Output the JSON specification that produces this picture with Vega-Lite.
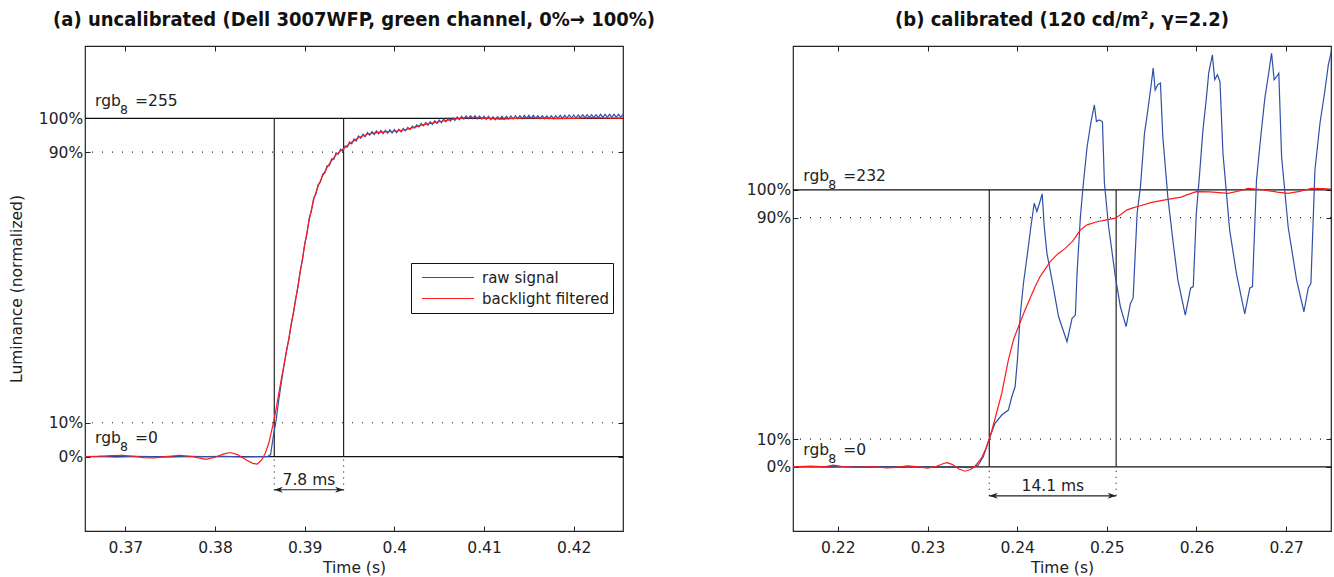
{
 "$schema": "https://vega.github.io/schema/vega-lite/v6.json",
 "padding": {"left": 9, "top": 8, "right": 2, "bottom": 0},
 "background": "white",
 "config": {
  "view": {"stroke": "#222", "strokeWidth": 1.2},
  "axis": {"grid": false, "domain": false, "tickSize": -5, "tickColor": "#222", "tickWidth": 1, "labelFont": "DejaVu Sans", "labelFontSize": 15.5, "labelColor": "#222", "titleFont": "DejaVu Sans", "titleFontSize": 15.5, "titleFontWeight": "normal", "titleColor": "#222"},
  "axisX": {"labelPadding": 14.5},
  "axisY": {"labelPadding": 7.3},
  "legend": {"orient": "none", "legendX": 326, "legendY": 217, "strokeColor": "#111", "fillColor": "white", "padding": 4, "symbolOffset": 6, "symbolType": "stroke", "symbolSize": 2704, "symbolStrokeWidth": 1.2, "labelFont": "DejaVu Sans", "labelFontSize": 15, "labelColor": "#222", "labelOffset": 7, "clipHeight": 21, "rowPadding": 0, "cornerRadius": 0},
  "title": {"font": "Liberation Sans Narrow, DejaVu Sans Condensed, Roboto", "fontSize": 20, "fontWeight": "bold", "color": "#111", "frame": "group", "anchor": "middle", "offset": 16}
 },
 "datasets": {
  "lann": [
   {"kind": "hsolid", "v": 0}, {"kind": "hsolid", "v": 1},
   {"kind": "hdot", "v": 0.1}, {"kind": "hdot", "v": 0.9},
   {"kind": "vsolid", "t": 0.38661, "v": 0, "v2": 1}, {"kind": "vsolid", "t": 0.39434, "v": 0, "v2": 1},
   {"kind": "vdot", "t": 0.38661, "v": -0.1, "v2": 0}, {"kind": "vdot", "t": 0.39434, "v": -0.1, "v2": 0},
   {"kind": "arrow", "t": 0.38661, "t2": 0.39434, "v": -0.098},
   {"kind": "head", "t": 0.38661, "v": -0.098, "dir": "left"}, {"kind": "head", "t": 0.39434, "v": -0.098, "dir": "right"},
   {"kind": "dur", "t": 0.390475, "v": -0.069, "label": "7.8 ms"},
   {"kind": "rgb", "t": 0.36662, "v": 1.0364, "rest": "=255"},
   {"kind": "rgb", "t": 0.36662, "v": 0.0395, "rest": "=0"}
  ],
  "rann": [
   {"kind": "hsolid", "v": 0}, {"kind": "hsolid", "v": 1},
   {"kind": "hdot", "v": 0.1}, {"kind": "hdot", "v": 0.9},
   {"kind": "vsolid", "t": 0.23689, "v": 0, "v2": 1}, {"kind": "vsolid", "t": 0.25104, "v": 0, "v2": 1},
   {"kind": "vdot", "t": 0.23689, "v": -0.105, "v2": 0}, {"kind": "vdot", "t": 0.25104, "v": -0.105, "v2": 0},
   {"kind": "arrow", "t": 0.23689, "t2": 0.25104, "v": -0.105},
   {"kind": "head", "t": 0.23689, "v": -0.105, "dir": "left"}, {"kind": "head", "t": 0.25104, "v": -0.105, "dir": "right"},
   {"kind": "dur", "t": 0.24398, "v": -0.0687, "label": "14.1 ms"},
   {"kind": "rgb", "t": 0.21615, "v": 1.0336, "rest": "=232"},
   {"kind": "rgb", "t": 0.21615, "v": 0.042, "rest": "=0"}
  ],
  "lfilt": [
   {"t":0.3655,"v":0},{"t":0.367,"v":0.001},{"t":0.3685,"v":0.003},{"t":0.3697,"v":0.004},{"t":0.371,"v":0.001},{"t":0.372,"v":-0.003},{"t":0.3731,"v":-0.004},{"t":0.3745,"v":0},{"t":0.3761,"v":0.004},{"t":0.3775,"v":0},{"t":0.379,"v":-0.008},{"t":0.38,"v":-0.002},{"t":0.381,"v":0.008},{"t":0.3817,"v":0.012},{"t":0.3825,"v":0.006},{"t":0.3835,"v":-0.01},{"t":0.3842,"v":-0.02},{"t":0.3847,"v":-0.022},{"t":0.3852,"v":-0.01},{"t":0.3856,"v":0.01},{"t":0.386,"v":0.04},{"t":0.3863,"v":0.075},{"t":0.3866,"v":0.11},{"t":0.387,"v":0.17},{"t":0.3875,"v":0.245},{"t":0.388,"v":0.315},{"t":0.3885,"v":0.39},{"t":0.389,"v":0.465},{"t":0.3895,"v":0.545},{"t":0.39,"v":0.625},{"t":0.3905,"v":0.7},{"t":0.391,"v":0.76},{"t":0.3915,"v":0.8},{"t":0.392,"v":0.83},{"t":0.3925,"v":0.855},{"t":0.393,"v":0.875},{"t":0.3935,"v":0.893},{"t":0.3943,"v":0.91},{"t":0.395,"v":0.925},{"t":0.396,"v":0.943},{"t":0.397,"v":0.953},{"t":0.398,"v":0.958},{"t":0.399,"v":0.96},{"t":0.4,"v":0.962},{"t":0.401,"v":0.965},{"t":0.402,"v":0.972},{"t":0.403,"v":0.98},{"t":0.404,"v":0.985},{"t":0.405,"v":0.99},{"t":0.406,"v":0.995},{"t":0.407,"v":0.999},{"t":0.408,"v":1.002},{"t":0.409,"v":1.003},{"t":0.41,"v":1.001},{"t":0.411,"v":0.999},{"t":0.412,"v":0.998},{"t":0.4135,"v":1},{"t":0.415,"v":1.002},{"t":0.4165,"v":1.001},{"t":0.418,"v":0.999},{"t":0.42,"v":1},{"t":0.422,"v":1.002},{"t":0.424,"v":1.001},{"t":0.4255,"v":1.001}
  ],
  "lraw": [
   {"t":0.3655,"v":0},{"t":0.367,"v":0.001},{"t":0.369,"v":-0.001},{"t":0.371,"v":0.001},{"t":0.373,"v":0},{"t":0.375,"v":-0.001},{"t":0.377,"v":0.001},{"t":0.379,"v":0},{"t":0.381,"v":0.001},{"t":0.383,"v":-0.001},{"t":0.385,"v":0},{"t":0.3859,"v":0},{"t":0.3862,"v":0.006},{"t":0.3865,"v":0.06},{"t":0.3868,"v":0.105},{"t":0.3871,"v":0.165},{"t":0.3874,"v":0.22},{"t":0.3877,"v":0.27},
   {"t":0.388,"v":0.318},{"t":0.38825,"v":0.348},{"t":0.3885,"v":0.393},{"t":0.38875,"v":0.424},{"t":0.389,"v":0.468},{"t":0.38925,"v":0.501},{"t":0.3895,"v":0.549},{"t":0.38975,"v":0.581},{"t":0.39,"v":0.629},{"t":0.39025,"v":0.658},{"t":0.3905,"v":0.704},{"t":0.39075,"v":0.726},{"t":0.391,"v":0.764},{"t":0.39125,"v":0.776},{"t":0.3915,"v":0.804},{"t":0.39175,"v":0.811},{"t":0.392,"v":0.835},{"t":0.39225,"v":0.838},{"t":0.3925,"v":0.86},{"t":0.39275,"v":0.86},{"t":0.393,"v":0.88},{"t":0.39325,"v":0.879},{"t":0.3935,"v":0.898},{"t":0.39375,"v":0.894},{"t":0.394,"v":0.909},{"t":0.39425,"v":0.903},{"t":0.3945,"v":0.918},{"t":0.39475,"v":0.915},{"t":0.395,"v":0.93},{"t":0.39525,"v":0.925},{"t":0.3955,"v":0.939},{"t":0.39575,"v":0.933},{"t":0.396,"v":0.948},{"t":0.39625,"v":0.941},{"t":0.3965,"v":0.953},{"t":0.39675,"v":0.946},{"t":0.397,"v":0.958},{"t":0.39725,"v":0.95},{"t":0.3975,"v":0.961},{"t":0.39775,"v":0.952},{"t":0.398,"v":0.963},{"t":0.39825,"v":0.954},{"t":0.3985,"v":0.964},{"t":0.39875,"v":0.955},{"t":0.399,"v":0.965},{"t":0.39925,"v":0.956},{"t":0.3995,"v":0.966},{"t":0.39975,"v":0.957},{"t":0.4,"v":0.967},{"t":0.40025,"v":0.958},{"t":0.4005,"v":0.968},{"t":0.40075,"v":0.96},{"t":0.401,"v":0.97},{"t":0.40125,"v":0.963},{"t":0.4015,"v":0.973},{"t":0.40175,"v":0.967},{"t":0.402,"v":0.977},{"t":0.40225,"v":0.971},{"t":0.4025,"v":0.981},{"t":0.40275,"v":0.975},{"t":0.403,"v":0.985},{"t":0.40325,"v":0.978},{"t":0.4035,"v":0.988},{"t":0.40375,"v":0.98},{"t":0.404,"v":0.99},{"t":0.40425,"v":0.982},{"t":0.4045,"v":0.993},{"t":0.40475,"v":0.985},{"t":0.405,"v":0.995},{"t":0.40525,"v":0.987},{"t":0.4055,"v":0.998},{"t":0.40575,"v":0.99},{"t":0.406,"v":1},{"t":0.40625,"v":0.992},{"t":0.4065,"v":1.002},{"t":0.40675,"v":0.994},{"t":0.407,"v":1.004},{"t":0.40725,"v":0.996},{"t":0.4075,"v":1.006},{"t":0.40775,"v":0.998},{"t":0.408,"v":1.007},{"t":0.40825,"v":0.999},{"t":0.4085,"v":1.008},{"t":0.40875,"v":0.999},{"t":0.409,"v":1.008},{"t":0.40925,"v":0.998},{"t":0.4095,"v":1.007},{"t":0.40975,"v":0.998},{"t":0.41,"v":1.006},{"t":0.41025,"v":0.997},{"t":0.4105,"v":1.006},{"t":0.41075,"v":0.996},{"t":0.411,"v":1.005},{"t":0.41125,"v":0.996},{"t":0.4115,"v":1.005},{"t":0.41175,"v":0.997},{"t":0.412,"v":1.006},{"t":0.41225,"v":0.997},{"t":0.4125,"v":1.006},{"t":0.41275,"v":0.998},{"t":0.413,"v":1.007},{"t":0.41325,"v":0.998},{"t":0.4135,"v":1.008},{"t":0.41375,"v":0.999},{"t":0.414,"v":1.008},{"t":0.41425,"v":0.999},{"t":0.4145,"v":1.009},{"t":0.41475,"v":1},{"t":0.415,"v":1.009},{"t":0.41525,"v":1},{"t":0.4155,"v":1.009},{"t":0.41575,"v":1},{"t":0.416,"v":1.008},{"t":0.41625,"v":0.999},{"t":0.4165,"v":1.008},{"t":0.41675,"v":0.999},{"t":0.417,"v":1.007},{"t":0.41725,"v":0.999},{"t":0.4175,"v":1.008},{"t":0.41775,"v":0.999},{"t":0.418,"v":1.008},{"t":0.41825,"v":1},{"t":0.4185,"v":1.009},{"t":0.41875,"v":1},{"t":0.419,"v":1.009},{"t":0.41925,"v":1.001},{"t":0.4195,"v":1.01},{"t":0.41975,"v":1.001},{"t":0.42,"v":1.01},{"t":0.42025,"v":1.001},{"t":0.4205,"v":1.01},{"t":0.42075,"v":1.002},{"t":0.421,"v":1.011},{"t":0.42125,"v":1.002},{"t":0.4215,"v":1.011},{"t":0.42175,"v":1.002},{"t":0.422,"v":1.011},{"t":0.42225,"v":1.002},{"t":0.4225,"v":1.011},{"t":0.42275,"v":1.003},{"t":0.423,"v":1.012},{"t":0.42325,"v":1.003},{"t":0.4235,"v":1.012},{"t":0.42375,"v":1.003},{"t":0.424,"v":1.012},{"t":0.42425,"v":1.003},{"t":0.4245,"v":1.012},{"t":0.42475,"v":1.003},{"t":0.425,"v":1.012},{"t":0.42525,"v":1.004},{"t":0.4255,"v":1.012}
  ],
  "rfilt": [
   {"t":0.215,"v":0},{"t":0.217,"v":0.002},{"t":0.2185,"v":0},{"t":0.2195,"v":0.006},{"t":0.2205,"v":0.001},{"t":0.222,"v":-0.002},{"t":0.224,"v":0},{"t":0.2255,"v":-0.004},{"t":0.2265,"v":-0.002},{"t":0.2278,"v":0.003},{"t":0.229,"v":0},{"t":0.23,"v":-0.005},{"t":0.231,"v":0.002},{"t":0.2318,"v":0.012},{"t":0.2322,"v":0.015},{"t":0.2328,"v":0.008},{"t":0.2335,"v":-0.008},{"t":0.2342,"v":-0.016},{"t":0.2348,"v":-0.01},{"t":0.2353,"v":0.002},{"t":0.236,"v":0.03},{"t":0.2365,"v":0.065},{"t":0.23697,"v":0.108},{"t":0.2375,"v":0.17},{"t":0.23828,"v":0.265},{"t":0.23902,"v":0.386},{"t":0.2396,"v":0.46},{"t":0.24014,"v":0.506},{"t":0.2408,"v":0.56},{"t":0.24144,"v":0.609},{"t":0.242,"v":0.65},{"t":0.24256,"v":0.687},{"t":0.24368,"v":0.741},{"t":0.2445,"v":0.768},{"t":0.24536,"v":0.789},{"t":0.2462,"v":0.815},{"t":0.24703,"v":0.855},{"t":0.2478,"v":0.874},{"t":0.2489,"v":0.885},{"t":0.25,"v":0.892},{"t":0.25095,"v":0.898},{"t":0.2516,"v":0.912},{"t":0.25226,"v":0.928},{"t":0.253,"v":0.936},{"t":0.25375,"v":0.943},{"t":0.255,"v":0.955},{"t":0.2568,"v":0.966},{"t":0.2583,"v":0.974},{"t":0.259,"v":0.983},{"t":0.25998,"v":0.994},{"t":0.2615,"v":0.993},{"t":0.26351,"v":0.988},{"t":0.265,"v":0.998},{"t":0.26575,"v":1.006},{"t":0.2675,"v":1},{"t":0.269,"v":0.992},{"t":0.27022,"v":0.988},{"t":0.2715,"v":0.995},{"t":0.27284,"v":1.006},{"t":0.274,"v":1.005},{"t":0.27508,"v":1.003}
  ],
  "rraw": [
   {"t":0.215,"v":0},{"t":0.217,"v":0.001},{"t":0.219,"v":-0.001},{"t":0.221,"v":0.001},{"t":0.223,"v":-0.002},{"t":0.225,"v":0},{"t":0.227,"v":-0.002},{"t":0.229,"v":0},{"t":0.231,"v":-0.002},{"t":0.233,"v":-0.001},{"t":0.2345,"v":-0.003},{"t":0.2351,"v":-0.002},{"t":0.23566,"v":0.006},{"t":0.23622,"v":0.036},{"t":0.23697,"v":0.108},{"t":0.23753,"v":0.157},{"t":0.23828,"v":0.187},{"t":0.23902,"v":0.205},{"t":0.2394,"v":0.253},{"t":0.23977,"v":0.289},{"t":0.24003,"v":0.386},{"t":0.24033,"v":0.542},{"t":0.2407,"v":0.663},{"t":0.24115,"v":0.771},{"t":0.24153,"v":0.867},{"t":0.2419,"v":0.952},{"t":0.2422,"v":0.922},{"t":0.24249,"v":0.952},{"t":0.24279,"v":0.986},{"t":0.24302,"v":0.867},{"t":0.24332,"v":0.771},{"t":0.24388,"v":0.675},{"t":0.24462,"v":0.542},{"t":0.24556,"v":0.452},{"t":0.24612,"v":0.536},{"t":0.24649,"v":0.548},{"t":0.24668,"v":0.699},{"t":0.24705,"v":0.903},{"t":0.24742,"v":1.036},{"t":0.2478,"v":1.156},{"t":0.24824,"v":1.247},{"t":0.24861,"v":1.307},{"t":0.24884,"v":1.247},{"t":0.24914,"v":1.253},{"t":0.24951,"v":1.247},{"t":0.24973,"v":1.024},{"t":0.2502,"v":0.867},{"t":0.25095,"v":0.687},{"t":0.25151,"v":0.578},{"t":0.25215,"v":0.506},{"t":0.25263,"v":0.59},{"t":0.25293,"v":0.609},{"t":0.25338,"v":0.916},{"t":0.25375,"v":1.012},{"t":0.2542,"v":1.205},{"t":0.2545,"v":1.271},{"t":0.25487,"v":1.361},{"t":0.25517,"v":1.44},{"t":0.25539,"v":1.361},{"t":0.25568,"v":1.38},{"t":0.25598,"v":1.386},{"t":0.25624,"v":1.193},{"t":0.2568,"v":0.976},{"t":0.25736,"v":0.819},{"t":0.25792,"v":0.675},{"t":0.25875,"v":0.548},{"t":0.25934,"v":0.645},{"t":0.25964,"v":0.651},{"t":0.25998,"v":0.916},{"t":0.26035,"v":1.06},{"t":0.26072,"v":1.217},{"t":0.2611,"v":1.331},{"t":0.26136,"v":1.422},{"t":0.26177,"v":1.488},{"t":0.26203,"v":1.398},{"t":0.26233,"v":1.416},{"t":0.26262,"v":1.391},{"t":0.26295,"v":1.133},{"t":0.2637,"v":0.855},{"t":0.26445,"v":0.699},{"t":0.26538,"v":0.552},{"t":0.26594,"v":0.645},{"t":0.26624,"v":0.651},{"t":0.26669,"v":1.036},{"t":0.26717,"v":1.193},{"t":0.26762,"v":1.331},{"t":0.26799,"v":1.409},{"t":0.26837,"v":1.494},{"t":0.26866,"v":1.398},{"t":0.26893,"v":1.409},{"t":0.26918,"v":1.422},{"t":0.26949,"v":1.12},{"t":0.27022,"v":0.867},{"t":0.27116,"v":0.675},{"t":0.27198,"v":0.56},{"t":0.27246,"v":0.645},{"t":0.27276,"v":0.663},{"t":0.27321,"v":1.072},{"t":0.27377,"v":1.241},{"t":0.27433,"v":1.361},{"t":0.2747,"v":1.452},{"t":0.27508,"v":1.506}
  ]
 },
 "spacing": 89,
 "resolve": {"scale": {"color": "independent"}, "legend": {"color": "independent"}},
 "hconcat": [
  {
   "width": 538, "height": 485,
   "title": {"text": "(a) uncalibrated (Dell 3007WFP, green channel, 0%→ 100%)"},
   "resolve": {"axis": {"x": "independent", "y": "independent"}},
   "layer": [
    {"data": {"name": "lann"}, "transform": [{"filter": "datum.kind === 'hdot'"}],
     "mark": {"type": "rule", "strokeDash": [1, 9], "color": "#222", "strokeWidth": 1.2},
     "encoding": {"y": {"field": "v", "type": "quantitative", "scale": {"domain": [-0.22, 1.214], "nice": false, "zero": false}, "axis": null}}},
    {"data": {"name": "lann"}, "transform": [{"filter": "datum.kind === 'hsolid'"}],
     "mark": {"type": "rule", "color": "#111", "strokeWidth": 1.3},
     "encoding": {"y": {"field": "v", "type": "quantitative", "scale": {"domain": [-0.22, 1.214], "nice": false, "zero": false}, "axis": null}}},
    {"data": {"name": "lann"}, "transform": [{"filter": "datum.kind === 'vsolid'"}],
     "mark": {"type": "rule", "color": "#222", "strokeWidth": 1.2},
     "encoding": {
      "x": {"field": "t", "type": "quantitative", "scale": {"domain": [0.3655, 0.4255], "nice": false, "zero": false}, "axis": {"orient": "top", "values": [0.37, 0.38, 0.39, 0.4, 0.41, 0.42], "labels": false, "title": null}},
      "y": {"field": "v", "type": "quantitative", "scale": {"domain": [-0.22, 1.214], "nice": false, "zero": false}, "axis": {"orient": "right", "values": [0, 0.1, 0.9, 1], "labels": false, "title": null}},
      "y2": {"field": "v2"}}},
    {"data": {"name": "lann"}, "transform": [{"filter": "datum.kind === 'vdot'"}],
     "mark": {"type": "rule", "color": "#222", "strokeWidth": 1.2, "strokeDash": [1, 5]},
     "encoding": {
      "x": {"field": "t", "type": "quantitative", "scale": {"domain": [0.3655, 0.4255], "nice": false, "zero": false}, "axis": null},
      "y": {"field": "v", "type": "quantitative", "scale": {"domain": [-0.22, 1.214], "nice": false, "zero": false}, "axis": null},
      "y2": {"field": "v2"}}},
    {"data": {"name": "lann"}, "transform": [{"filter": "datum.kind === 'arrow'"}],
     "mark": {"type": "rule", "color": "#222", "strokeWidth": 1.2},
     "encoding": {
      "x": {"field": "t", "type": "quantitative", "scale": {"domain": [0.3655, 0.4255], "nice": false, "zero": false}, "axis": null},
      "x2": {"field": "t2"},
      "y": {"field": "v", "type": "quantitative", "scale": {"domain": [-0.22, 1.214], "nice": false, "zero": false}, "axis": null}}},
    {"data": {"name": "lann"}, "transform": [{"filter": "datum.kind === 'head'"}],
     "mark": {"type": "point", "filled": true, "size": 100, "color": "#222", "opacity": 1, "strokeWidth": 0},
     "encoding": {
      "x": {"field": "t", "type": "quantitative", "scale": {"domain": [0.3655, 0.4255], "nice": false, "zero": false}, "axis": null},
      "y": {"field": "v", "type": "quantitative", "scale": {"domain": [-0.22, 1.214], "nice": false, "zero": false}, "axis": null},
      "shape": {"field": "dir", "type": "nominal", "scale": {"domain": ["left", "right"], "range": ["M0,0L1.7,-0.6L1.2,0L1.7,0.6Z", "M0,0L-1.7,-0.6L-1.2,0L-1.7,0.6Z"]}, "legend": null}}},
    {"data": {"name": "lann"}, "transform": [{"filter": "datum.kind === 'dur'"}],
     "mark": {"type": "text", "font": "DejaVu Sans", "fontSize": 15.5, "color": "#222", "align": "center", "baseline": "middle"},
     "encoding": {
      "x": {"field": "t", "type": "quantitative", "scale": {"domain": [0.3655, 0.4255], "nice": false, "zero": false}, "axis": null},
      "y": {"field": "v", "type": "quantitative", "scale": {"domain": [-0.22, 1.214], "nice": false, "zero": false}, "axis": null},
      "text": {"field": "label"}}},
    {"data": {"name": "lann"}, "transform": [{"filter": "datum.kind === 'rgb'"}],
     "mark": {"type": "text", "text": "rgb", "font": "DejaVu Sans", "fontSize": 15.5, "color": "#222", "align": "left", "baseline": "alphabetic"},
     "encoding": {
      "x": {"field": "t", "type": "quantitative", "scale": {"domain": [0.3655, 0.4255], "nice": false, "zero": false}, "axis": null},
      "y": {"field": "v", "type": "quantitative", "scale": {"domain": [-0.22, 1.214], "nice": false, "zero": false}, "axis": null}}},
    {"data": {"name": "lann"}, "transform": [{"filter": "datum.kind === 'rgb'"}],
     "mark": {"type": "text", "text": "8", "font": "DejaVu Sans", "fontSize": 12.5, "color": "#222", "align": "left", "baseline": "alphabetic", "dx": 25, "dy": 8},
     "encoding": {
      "x": {"field": "t", "type": "quantitative", "scale": {"domain": [0.3655, 0.4255], "nice": false, "zero": false}, "axis": null},
      "y": {"field": "v", "type": "quantitative", "scale": {"domain": [-0.22, 1.214], "nice": false, "zero": false}, "axis": null}}},
    {"data": {"name": "lann"}, "transform": [{"filter": "datum.kind === 'rgb'"}],
     "mark": {"type": "text", "font": "DejaVu Sans", "fontSize": 15.5, "color": "#222", "align": "left", "baseline": "alphabetic", "dx": 40},
     "encoding": {
      "x": {"field": "t", "type": "quantitative", "scale": {"domain": [0.3655, 0.4255], "nice": false, "zero": false}, "axis": null},
      "y": {"field": "v", "type": "quantitative", "scale": {"domain": [-0.22, 1.214], "nice": false, "zero": false}, "axis": null},
      "text": {"field": "rest"}}},
    {"data": {"name": "lraw"},
     "mark": {"type": "line", "strokeWidth": 1.2, "clip": true},
     "encoding": {
      "x": {"field": "t", "type": "quantitative", "scale": {"domain": [0.3655, 0.4255], "nice": false, "zero": false}, "axis": {"orient": "bottom", "values": [0.37, 0.38, 0.39, 0.4, 0.41, 0.42], "format": "~g", "title": "Time (s)"}},
      "y": {"field": "v", "type": "quantitative", "scale": {"domain": [-0.22, 1.214], "nice": false, "zero": false}, "axis": {"orient": "left", "values": [0, 0.1, 0.9, 1], "format": ".0%", "title": "Luminance (normalized)", "titlePadding": 13.7}},
      "color": {"datum": "raw signal", "type": "nominal", "scale": {"domain": ["raw signal", "backlight filtered"], "range": ["#3050a8", "#ff1a1a"]}, "legend": {"title": null}}}},
    {"data": {"name": "lfilt"},
     "mark": {"type": "line", "strokeWidth": 1.2, "clip": true},
     "encoding": {
      "x": {"field": "t", "type": "quantitative", "scale": {"domain": [0.3655, 0.4255], "nice": false, "zero": false}, "axis": null},
      "y": {"field": "v", "type": "quantitative", "scale": {"domain": [-0.22, 1.214], "nice": false, "zero": false}, "axis": null},
      "color": {"datum": "backlight filtered", "type": "nominal", "scale": {"domain": ["raw signal", "backlight filtered"], "range": ["#3050a8", "#ff1a1a"]}, "legend": {"title": null}}}}
   ]
  },
  {
   "width": 538, "height": 485,
   "title": {"text": "(b) calibrated (120 cd/m², γ=2.2)"},
   "resolve": {"axis": {"x": "independent", "y": "independent"}},
   "layer": [
    {"data": {"name": "rann"}, "transform": [{"filter": "datum.kind === 'hdot'"}],
     "mark": {"type": "rule", "strokeDash": [1, 9], "color": "#222", "strokeWidth": 1.2},
     "encoding": {"y": {"field": "v", "type": "quantitative", "scale": {"domain": [-0.232, 1.52], "nice": false, "zero": false}, "axis": null}}},
    {"data": {"name": "rann"}, "transform": [{"filter": "datum.kind === 'hsolid'"}],
     "mark": {"type": "rule", "color": "#111", "strokeWidth": 1.3},
     "encoding": {"y": {"field": "v", "type": "quantitative", "scale": {"domain": [-0.232, 1.52], "nice": false, "zero": false}, "axis": null}}},
    {"data": {"name": "rann"}, "transform": [{"filter": "datum.kind === 'vsolid'"}],
     "mark": {"type": "rule", "color": "#222", "strokeWidth": 1.2},
     "encoding": {
      "x": {"field": "t", "type": "quantitative", "scale": {"domain": [0.215, 0.275], "nice": false, "zero": false}, "axis": {"orient": "top", "values": [0.22, 0.23, 0.24, 0.25, 0.26, 0.27], "labels": false, "title": null}},
      "y": {"field": "v", "type": "quantitative", "scale": {"domain": [-0.232, 1.52], "nice": false, "zero": false}, "axis": {"orient": "right", "values": [0, 0.1, 0.9, 1], "labels": false, "title": null}},
      "y2": {"field": "v2"}}},
    {"data": {"name": "rann"}, "transform": [{"filter": "datum.kind === 'vdot'"}],
     "mark": {"type": "rule", "color": "#222", "strokeWidth": 1.2, "strokeDash": [1, 5]},
     "encoding": {
      "x": {"field": "t", "type": "quantitative", "scale": {"domain": [0.215, 0.275], "nice": false, "zero": false}, "axis": null},
      "y": {"field": "v", "type": "quantitative", "scale": {"domain": [-0.232, 1.52], "nice": false, "zero": false}, "axis": null},
      "y2": {"field": "v2"}}},
    {"data": {"name": "rann"}, "transform": [{"filter": "datum.kind === 'arrow'"}],
     "mark": {"type": "rule", "color": "#222", "strokeWidth": 1.2},
     "encoding": {
      "x": {"field": "t", "type": "quantitative", "scale": {"domain": [0.215, 0.275], "nice": false, "zero": false}, "axis": null},
      "x2": {"field": "t2"},
      "y": {"field": "v", "type": "quantitative", "scale": {"domain": [-0.232, 1.52], "nice": false, "zero": false}, "axis": null}}},
    {"data": {"name": "rann"}, "transform": [{"filter": "datum.kind === 'head'"}],
     "mark": {"type": "point", "filled": true, "size": 100, "color": "#222", "opacity": 1, "strokeWidth": 0},
     "encoding": {
      "x": {"field": "t", "type": "quantitative", "scale": {"domain": [0.215, 0.275], "nice": false, "zero": false}, "axis": null},
      "y": {"field": "v", "type": "quantitative", "scale": {"domain": [-0.232, 1.52], "nice": false, "zero": false}, "axis": null},
      "shape": {"field": "dir", "type": "nominal", "scale": {"domain": ["left", "right"], "range": ["M0,0L1.7,-0.6L1.2,0L1.7,0.6Z", "M0,0L-1.7,-0.6L-1.2,0L-1.7,0.6Z"]}, "legend": null}}},
    {"data": {"name": "rann"}, "transform": [{"filter": "datum.kind === 'dur'"}],
     "mark": {"type": "text", "font": "DejaVu Sans", "fontSize": 15.5, "color": "#222", "align": "center", "baseline": "middle"},
     "encoding": {
      "x": {"field": "t", "type": "quantitative", "scale": {"domain": [0.215, 0.275], "nice": false, "zero": false}, "axis": null},
      "y": {"field": "v", "type": "quantitative", "scale": {"domain": [-0.232, 1.52], "nice": false, "zero": false}, "axis": null},
      "text": {"field": "label"}}},
    {"data": {"name": "rann"}, "transform": [{"filter": "datum.kind === 'rgb'"}],
     "mark": {"type": "text", "text": "rgb", "font": "DejaVu Sans", "fontSize": 15.5, "color": "#222", "align": "left", "baseline": "alphabetic"},
     "encoding": {
      "x": {"field": "t", "type": "quantitative", "scale": {"domain": [0.215, 0.275], "nice": false, "zero": false}, "axis": null},
      "y": {"field": "v", "type": "quantitative", "scale": {"domain": [-0.232, 1.52], "nice": false, "zero": false}, "axis": null}}},
    {"data": {"name": "rann"}, "transform": [{"filter": "datum.kind === 'rgb'"}],
     "mark": {"type": "text", "text": "8", "font": "DejaVu Sans", "fontSize": 12.5, "color": "#222", "align": "left", "baseline": "alphabetic", "dx": 25, "dy": 8},
     "encoding": {
      "x": {"field": "t", "type": "quantitative", "scale": {"domain": [0.215, 0.275], "nice": false, "zero": false}, "axis": null},
      "y": {"field": "v", "type": "quantitative", "scale": {"domain": [-0.232, 1.52], "nice": false, "zero": false}, "axis": null}}},
    {"data": {"name": "rann"}, "transform": [{"filter": "datum.kind === 'rgb'"}],
     "mark": {"type": "text", "font": "DejaVu Sans", "fontSize": 15.5, "color": "#222", "align": "left", "baseline": "alphabetic", "dx": 40},
     "encoding": {
      "x": {"field": "t", "type": "quantitative", "scale": {"domain": [0.215, 0.275], "nice": false, "zero": false}, "axis": null},
      "y": {"field": "v", "type": "quantitative", "scale": {"domain": [-0.232, 1.52], "nice": false, "zero": false}, "axis": null},
      "text": {"field": "rest"}}},
    {"data": {"name": "rraw"},
     "mark": {"type": "line", "strokeWidth": 1.2, "clip": true},
     "encoding": {
      "x": {"field": "t", "type": "quantitative", "scale": {"domain": [0.215, 0.275], "nice": false, "zero": false}, "axis": {"orient": "bottom", "values": [0.22, 0.23, 0.24, 0.25, 0.26, 0.27], "format": "~g", "title": "Time (s)"}},
      "y": {"field": "v", "type": "quantitative", "scale": {"domain": [-0.232, 1.52], "nice": false, "zero": false}, "axis": {"orient": "left", "values": [0, 0.1, 0.9, 1], "format": ".0%", "title": null}},
      "color": {"datum": "raw signal", "type": "nominal", "scale": {"domain": ["raw signal", "backlight filtered"], "range": ["#3050a8", "#ff1a1a"]}, "legend": null}}},
    {"data": {"name": "rfilt"},
     "mark": {"type": "line", "strokeWidth": 1.2, "clip": true},
     "encoding": {
      "x": {"field": "t", "type": "quantitative", "scale": {"domain": [0.215, 0.275], "nice": false, "zero": false}, "axis": null},
      "y": {"field": "v", "type": "quantitative", "scale": {"domain": [-0.232, 1.52], "nice": false, "zero": false}, "axis": null},
      "color": {"datum": "backlight filtered", "type": "nominal", "scale": {"domain": ["raw signal", "backlight filtered"], "range": ["#3050a8", "#ff1a1a"]}, "legend": null}}}
   ]
  }
 ]
}
